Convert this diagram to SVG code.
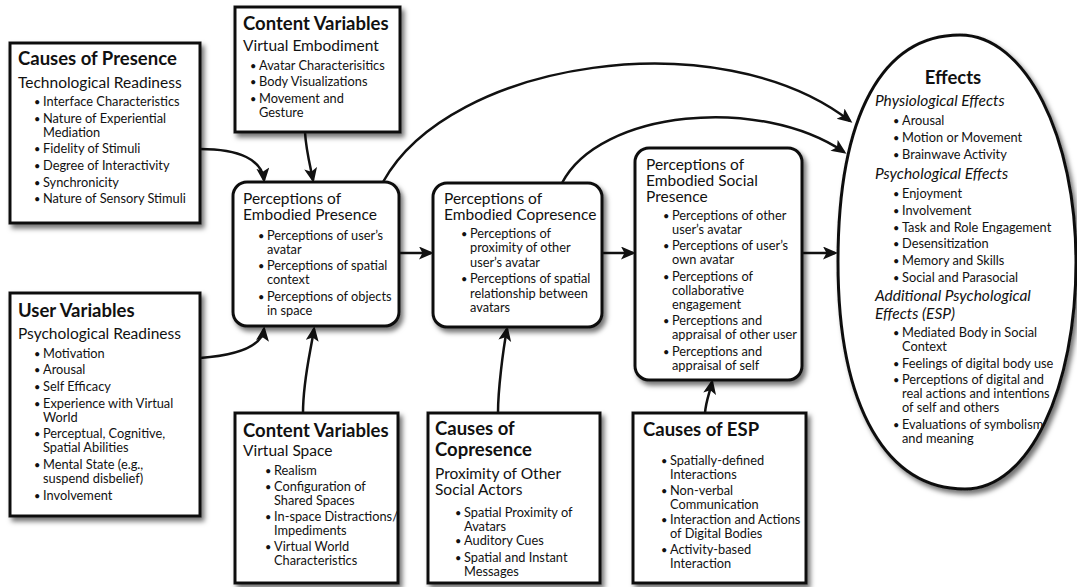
<svg xmlns="http://www.w3.org/2000/svg" width="1077" height="587" viewBox="0 0 1077 587">
  <defs>
    <filter id="sh" x="-10%" y="-10%" width="125%" height="125%">
      <feDropShadow dx="3" dy="4" stdDeviation="2.5" flood-color="#000" flood-opacity="0.55"/>
    </filter>
    <marker id="ah" markerUnits="userSpaceOnUse" markerWidth="18" markerHeight="14" refX="12" refY="6.5" orient="auto">
      <path d="M0,0 L15,6.5 L0,13 L3.5,6.5 z" fill="#111"/>
    </marker>
    <style>
      .box { fill:#fff; stroke:#111; stroke-width:3; filter:url(#sh); }
      .t { font-family: Lato, "Open Sans", "DejaVu Sans", sans-serif; fill:#111; }
      .h { font-size:18.5px; font-weight:700; }
      .s { font-size:15.5px; }
      .b { font-size:12.8px; }
      .d { font-size:11px; }
      .i { font-size:15.5px; font-style:italic; }
      .c { fill:none; stroke:#111; stroke-width:2.5; marker-end:url(#ah); }
    </style>
  </defs>
  <rect width="1077" height="587" fill="#fff"/>

  <!-- connectors -->
  <g id="connectors">
    <path class="c" d="M200,149 C240,149 262,160 264,180"/>
    <path class="c" d="M305,132 C306,150 310,165 313,180"/>
    <path class="c" d="M200,358 C240,355 262,345 264,329"/>
    <path class="c" d="M303,413 C303,380 310,355 314,329"/>
    <path class="c" d="M399,253 L431,253"/>
    <path class="c" d="M602,253 L633,253"/>
    <path class="c" d="M802,253 L835,253"/>
    <path class="c" d="M498,413 C498,390 503,350 507,329"/>
    <path class="c" d="M705,413 C706,400 710,392 712,382"/>
    <path class="c" d="M383,182 C450,60 720,20 850,121"/>
    <path class="c" d="M562,183 C600,110 760,95 844,152"/>
  </g>

  <!-- Causes of Presence -->
  <g id="causes-presence">
    <rect class="box" x="10" y="43" width="190" height="180"/>
    <text class="t h" x="18" y="65">Causes of Presence</text>
    <text class="t s" x="18" y="87.5">Technological Readiness</text>
    <text class="t b">
      <tspan class="d" x="34" y="106">•</tspan><tspan x="43" y="106">Interface Characteristics</tspan>
      <tspan class="d" x="34" y="122.5">•</tspan><tspan x="43" y="122.5">Nature of Experiential</tspan>
      <tspan x="43" y="136.5">Mediation</tspan>
      <tspan class="d" x="34" y="153">•</tspan><tspan x="43" y="153">Fidelity of Stimuli</tspan>
      <tspan class="d" x="34" y="170">•</tspan><tspan x="43" y="170">Degree of Interactivity</tspan>
      <tspan class="d" x="34" y="187">•</tspan><tspan x="43" y="187">Synchronicity</tspan>
      <tspan class="d" x="34" y="203">•</tspan><tspan x="43" y="203">Nature of Sensory Stimuli</tspan>
    </text>
  </g>

  <!-- User Variables -->
  <g id="user-variables">
    <rect class="box" x="10" y="293" width="190" height="223"/>
    <text class="t h" x="18" y="316.5">User Variables</text>
    <text class="t s" x="18" y="338.5">Psychological Readiness</text>
    <text class="t b">
      <tspan class="d" x="34" y="357.5">•</tspan><tspan x="43" y="357.5">Motivation</tspan>
      <tspan class="d" x="34" y="374.2">•</tspan><tspan x="43" y="374.2">Arousal</tspan>
      <tspan class="d" x="34" y="390.9">•</tspan><tspan x="43" y="390.9">Self Efficacy</tspan>
      <tspan class="d" x="34" y="407.6">•</tspan><tspan x="43" y="407.6">Experience with Virtual</tspan>
      <tspan x="43" y="421.6">World</tspan>
      <tspan class="d" x="34" y="438.3">•</tspan><tspan x="43" y="438.3">Perceptual, Cognitive,</tspan>
      <tspan x="43" y="452.3">Spatial Abilities</tspan>
      <tspan class="d" x="34" y="469">•</tspan><tspan x="43" y="469">Mental State (e.g.,</tspan>
      <tspan x="43" y="483">suspend disbelief)</tspan>
      <tspan class="d" x="34" y="499.7">•</tspan><tspan x="43" y="499.7">Involvement</tspan>
    </text>
  </g>

  <!-- Content Variables: Virtual Embodiment -->
  <g id="content-embodiment">
    <rect class="box" x="235" y="7" width="165" height="125"/>
    <text class="t h" x="243" y="29.5">Content Variables</text>
    <text class="t s" x="243" y="50.5">Virtual Embodiment</text>
    <text class="t b">
      <tspan class="d" x="250" y="69.5">•</tspan><tspan x="259" y="69.5">Avatar Characterisitics</tspan>
      <tspan class="d" x="250" y="86.2">•</tspan><tspan x="259" y="86.2">Body Visualizations</tspan>
      <tspan class="d" x="250" y="102.9">•</tspan><tspan x="259" y="102.9">Movement and</tspan>
      <tspan x="259" y="116.9">Gesture</tspan>
    </text>
  </g>

  <!-- Perceptions of Embodied Presence -->
  <g id="embodied-presence">
    <rect class="box" x="233" y="182" width="166" height="144" rx="14"/>
    <text class="t s" x="243" y="203.5">Perceptions of</text>
    <text class="t s" x="243" y="219.5">Embodied Presence</text>
    <text class="t b">
      <tspan class="d" x="258" y="239.5">•</tspan><tspan x="267" y="239.5">Perceptions of user’s</tspan>
      <tspan x="267" y="253.5">avatar</tspan>
      <tspan class="d" x="258" y="270.2">•</tspan><tspan x="267" y="270.2">Perceptions of spatial</tspan>
      <tspan x="267" y="284.2">context</tspan>
      <tspan class="d" x="258" y="300.9">•</tspan><tspan x="267" y="300.9">Perceptions of objects</tspan>
      <tspan x="267" y="314.9">in space</tspan>
    </text>
  </g>

  <!-- Perceptions of Embodied Copresence -->
  <g id="embodied-copresence">
    <rect class="box" x="433" y="183" width="169" height="144" rx="14"/>
    <text class="t s" x="444" y="203.5">Perceptions of</text>
    <text class="t s" x="444" y="219.5">Embodied Copresence</text>
    <text class="t b">
      <tspan class="d" x="461" y="237.5">•</tspan><tspan x="470" y="237.5">Perceptions of</tspan>
      <tspan x="470" y="252">proximity of other</tspan>
      <tspan x="470" y="266.5">user’s avatar</tspan>
      <tspan class="d" x="461" y="283.2">•</tspan><tspan x="470" y="283.2">Perceptions of spatial</tspan>
      <tspan x="470" y="297.7">relationship between</tspan>
      <tspan x="470" y="312.2">avatars</tspan>
    </text>
  </g>

  <!-- Perceptions of Embodied Social Presence -->
  <g id="embodied-social-presence">
    <rect class="box" x="635" y="148" width="167" height="232" rx="14"/>
    <text class="t s" x="646" y="169.5">Perceptions of</text>
    <text class="t s" x="646" y="185.5">Embodied Social</text>
    <text class="t s" x="646" y="201.5">Presence</text>
    <text class="t b">
      <tspan class="d" x="663" y="219.5">•</tspan><tspan x="672" y="219.5">Perceptions of other</tspan>
      <tspan x="672" y="233.5">user’s avatar</tspan>
      <tspan class="d" x="663" y="250">•</tspan><tspan x="672" y="250">Perceptions of user’s</tspan>
      <tspan x="672" y="264">own avatar</tspan>
      <tspan class="d" x="663" y="280.5">•</tspan><tspan x="672" y="280.5">Perceptions of</tspan>
      <tspan x="672" y="294.5">collaborative</tspan>
      <tspan x="672" y="308.5">engagement</tspan>
      <tspan class="d" x="663" y="325">•</tspan><tspan x="672" y="325">Perceptions and</tspan>
      <tspan x="672" y="339">appraisal of other user</tspan>
      <tspan class="d" x="663" y="355.5">•</tspan><tspan x="672" y="355.5">Perceptions and</tspan>
      <tspan x="672" y="369.5">appraisal of self</tspan>
    </text>
  </g>

  <!-- Content Variables: Virtual Space -->
  <g id="content-space">
    <rect class="box" x="235" y="413" width="163" height="170"/>
    <text class="t h" x="243" y="436.5">Content Variables</text>
    <text class="t s" x="243" y="455.5">Virtual Space</text>
    <text class="t b">
      <tspan class="d" x="265" y="474.5">•</tspan><tspan x="274" y="474.5">Realism</tspan>
      <tspan class="d" x="265" y="491">•</tspan><tspan x="274" y="491">Configuration of</tspan>
      <tspan x="274" y="505">Shared Spaces</tspan>
      <tspan class="d" x="265" y="521">•</tspan><tspan x="274" y="521">In-space Distractions/</tspan>
      <tspan x="274" y="535">Impediments</tspan>
      <tspan class="d" x="265" y="551">•</tspan><tspan x="274" y="551">Virtual World</tspan>
      <tspan x="274" y="565">Characteristics</tspan>
    </text>
  </g>

  <!-- Causes of Copresence -->
  <g id="causes-copresence">
    <rect class="box" x="428" y="413" width="172" height="170"/>
    <text class="t h" x="435" y="434.5">Causes of</text>
    <text class="t h" x="435" y="455.5">Copresence</text>
    <text class="t s" x="435" y="478.5">Proximity of Other</text>
    <text class="t s" x="435" y="494.5">Social Actors</text>
    <text class="t b">
      <tspan class="d" x="455" y="516.5">•</tspan><tspan x="464" y="516.5">Spatial Proximity of</tspan>
      <tspan x="464" y="530.5">Avatars</tspan>
      <tspan class="d" x="455" y="545">•</tspan><tspan x="464" y="545">Auditory Cues</tspan>
      <tspan class="d" x="455" y="561.5">•</tspan><tspan x="464" y="561.5">Spatial and Instant</tspan>
      <tspan x="464" y="575.5">Messages</tspan>
    </text>
  </g>

  <!-- Causes of ESP -->
  <g id="causes-esp">
    <rect class="box" x="633" y="413" width="173" height="170"/>
    <text class="t h" x="643" y="435.5">Causes of ESP</text>
    <text class="t b">
      <tspan class="d" x="661" y="464.5">•</tspan><tspan x="670" y="464.5">Spatially-defined</tspan>
      <tspan x="670" y="478.5">Interactions</tspan>
      <tspan class="d" x="661" y="494.5">•</tspan><tspan x="670" y="494.5">Non-verbal</tspan>
      <tspan x="670" y="508.5">Communication</tspan>
      <tspan class="d" x="661" y="524">•</tspan><tspan x="670" y="524">Interaction and Actions</tspan>
      <tspan x="670" y="538">of Digital Bodies</tspan>
      <tspan class="d" x="661" y="553.5">•</tspan><tspan x="670" y="553.5">Activity-based</tspan>
      <tspan x="670" y="567.5">Interaction</tspan>
    </text>
  </g>

  <!-- Effects -->
  <g id="effects">
    <path class="box" d="M960,35 C1026,35 1076,137 1076,262 C1076,387 1030,489 965,489 C888,489 838,410 838,262 C838,114 883,35 960,35 Z"/>
    <text class="t h" x="953" y="83.5" text-anchor="middle">Effects</text>
    <text class="t i" x="875" y="105.5">Physiological Effects</text>
    <text class="t b">
      <tspan class="d" x="893" y="124.5">•</tspan><tspan x="902" y="124.5">Arousal</tspan>
      <tspan class="d" x="893" y="141.5">•</tspan><tspan x="902" y="141.5">Motion or Movement</tspan>
      <tspan class="d" x="893" y="158.5">•</tspan><tspan x="902" y="158.5">Brainwave Activity</tspan>
    </text>
    <text class="t i" x="875" y="178.5">Psychological Effects</text>
    <text class="t b">
      <tspan class="d" x="893" y="197.5">•</tspan><tspan x="902" y="197.5">Enjoyment</tspan>
      <tspan class="d" x="893" y="214.5">•</tspan><tspan x="902" y="214.5">Involvement</tspan>
      <tspan class="d" x="893" y="231.5">•</tspan><tspan x="902" y="231.5">Task and Role Engagement</tspan>
      <tspan class="d" x="893" y="247.5">•</tspan><tspan x="902" y="247.5">Desensitization</tspan>
      <tspan class="d" x="893" y="264.5">•</tspan><tspan x="902" y="264.5">Memory and Skills</tspan>
      <tspan class="d" x="893" y="281.5">•</tspan><tspan x="902" y="281.5">Social and Parasocial</tspan>
    </text>
    <text class="t i" x="875" y="300.5">Additional Psychological</text>
    <text class="t i" x="875" y="318.5">Effects (ESP)</text>
    <text class="t b">
      <tspan class="d" x="893" y="336.5">•</tspan><tspan x="902" y="336.5">Mediated Body in Social</tspan>
      <tspan x="902" y="350.5">Context</tspan>
      <tspan class="d" x="893" y="367.5">•</tspan><tspan x="902" y="367.5">Feelings of digital body use</tspan>
      <tspan class="d" x="893" y="383.5">•</tspan><tspan x="902" y="383.5">Perceptions of digital and</tspan>
      <tspan x="902" y="397.5">real actions and intentions</tspan>
      <tspan x="902" y="411.5">of self and others</tspan>
      <tspan class="d" x="893" y="428.5">•</tspan><tspan x="902" y="428.5">Evaluations of symbolism</tspan>
      <tspan x="902" y="442.5">and meaning</tspan>
    </text>
  </g>
</svg>
